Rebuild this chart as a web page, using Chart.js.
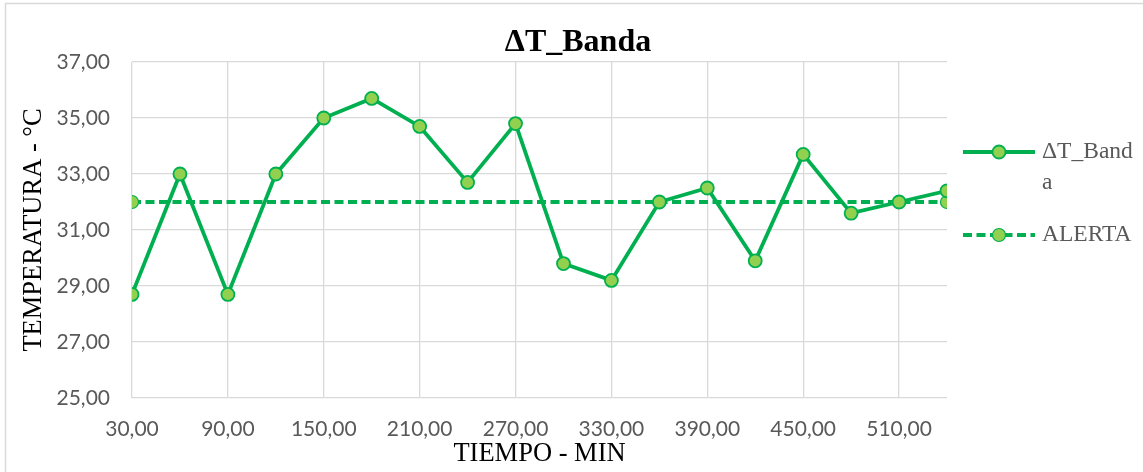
<!DOCTYPE html>
<html lang="es">
<head>
    <meta charset="UTF-8">
    <title>ΔT_Banda</title>
    <script src="https://cdn.jsdelivr.net/npm/chart.js"></script>
    <style>
        html, body { margin: 0; padding: 0; background: #fff; }
        #wrap { position: relative; width: 1143px; height: 472px; }
    </style>
</head>
<body>

<div id="wrap"><canvas id="lineChart"></canvas></div>

<script>
    // Data
    const tiempo = [30, 60, 90, 120, 150, 180, 210, 240, 270, 300, 330, 360, 390, 420, 450, 480, 510, 540];
    const deltaT = [28.7, 33.0, 28.7, 33.0, 35.0, 35.7, 34.7, 32.7, 34.8, 29.8, 29.2, 32.0, 32.5, 29.9, 33.7, 31.6, 32.0, 32.4];
    const alertaX = [30, 540];
    const alertaY = [32, 32];

    // Tick labels
    const xTicks = [30, 90, 150, 210, 270, 330, 390, 450, 510];
    const yTicks = [25, 27, 29, 31, 33, 35, 37];

    const titulo = 'ΔT_Banda';
    const serieNombre = 'ΔT_Banda';
    const alertaNombre = 'ALERTA';
    const ejeX = 'TIEMPO - MIN';
    const ejeY = 'TEMPERATURA - °C';

    const VERDE = '#00B050';
    const VERDE_CLARO = '#92D050';
    const GRIS_TEXTO = '#595959';
    const GRIS_REJILLA = '#D9D9D9';

    // Format numbers the way Excel shows them: 30,00
    function fmt(v) {
        return Number(v).toFixed(2).replace('.', ',');
    }

    // Border, title and legend drawn on the canvas
    const decor = {
        id: 'decor',
        beforeDraw(chart) {
            const ctx = chart.ctx;
            ctx.save();
            ctx.fillStyle = '#fff';
            ctx.fillRect(0, 0, chart.width, chart.height);
            ctx.strokeStyle = GRIS_REJILLA;
            ctx.lineWidth = 1.5;
            ctx.strokeRect(5.5, 3.5, chart.width + 20, chart.height + 20);
            ctx.restore();
        },
        afterDraw(chart) {
            const ctx = chart.ctx;
            ctx.save();

            // title
            ctx.fillStyle = '#000';
            ctx.font = 'bold 32px "Liberation Serif"';
            ctx.textAlign = 'center';
            ctx.textBaseline = 'middle';
            ctx.fillText(titulo, 578, 43);

            // legend
            const rows = [152, 235];
            const sx0 = 963, sx1 = 1035, tx = 1042, maxW = 94;
            ctx.font = '23.5px "Liberation Serif"';
            chart.data.datasets.forEach((ds, i) => {
                const y = rows[i];
                ctx.strokeStyle = ds.borderColor;
                ctx.lineWidth = ds.borderWidth;
                ctx.setLineDash(ds.borderDash || []);
                ctx.beginPath();
                ctx.moveTo(sx0, y);
                ctx.lineTo(sx1, y);
                ctx.stroke();
                ctx.setLineDash([]);
                ctx.beginPath();
                ctx.arc((sx0 + sx1) / 2, y, ds.pointRadius, 0, Math.PI * 2);
                ctx.fillStyle = ds.pointBackgroundColor;
                ctx.fill();
                ctx.lineWidth = ds.pointBorderWidth;
                ctx.strokeStyle = ds.pointBorderColor;
                ctx.stroke();

                // wrap by characters like Excel does
                const lines = [];
                let cur = '';
                for (const ch of ds.label) {
                    if (cur && ctx.measureText(cur + ch).width > maxW) {
                        lines.push(cur);
                        cur = ch;
                    } else {
                        cur += ch;
                    }
                }
                lines.push(cur);
                ctx.fillStyle = GRIS_TEXTO;
                ctx.textAlign = 'left';
                ctx.textBaseline = 'middle';
                lines.forEach((t, k) => ctx.fillText(t, tx, y + k * 31));
            });
            ctx.restore();
        }
    };

    const ctx = document.getElementById('lineChart').getContext('2d');
    const lineChart = new Chart(ctx, {
        type: 'line',
        data: {
            datasets: [{
                label: serieNombre,
                data: tiempo.map((t, i) => ({ x: t, y: deltaT[i] })),
                borderColor: VERDE,
                borderWidth: 3.8,
                pointRadius: 6.5,
                pointHoverRadius: 6.5,
                pointBackgroundColor: VERDE_CLARO,
                pointBorderColor: VERDE,
                pointBorderWidth: 1.8,
                tension: 0,
                fill: false
            }, {
                label: alertaNombre,
                data: alertaX.map((t, i) => ({ x: t, y: alertaY[i] })),
                borderColor: VERDE,
                borderWidth: 3.8,
                borderDash: [9, 4.5],
                pointRadius: 6.5,
                pointHoverRadius: 6.5,
                pointBackgroundColor: VERDE_CLARO,
                pointBorderColor: VERDE,
                pointBorderWidth: 1.2,
                tension: 0,
                fill: false
            }]
        },
        options: {
            responsive: true,
            maintainAspectRatio: false,
            animation: false,
            layout: { padding: { left: 0, right: 196, top: 62, bottom: 0 } },
            plugins: {
                legend: { display: false },
                title: { display: false },
                tooltip: { enabled: false }
            },
            scales: {
                x: {
                    type: 'linear',
                    min: 30,
                    max: 540,
                    afterBuildTicks: (s) => { s.ticks = xTicks.map(v => ({ value: v })); },
                    afterFit: (s) => { s.height = 74; },
                    grid: { color: GRIS_REJILLA, lineWidth: 1.3, drawTicks: false },
                    border: { display: false },
                    ticks: {
                        color: GRIS_TEXTO,
                        font: { family: 'Lato', size: 21 },
                        padding: 19,
                        maxRotation: 0,
                        autoSkip: false,
                        callback: (v) => fmt(v)
                    },
                    title: {
                        display: true,
                        text: ejeX,
                        color: '#000',
                        font: { family: 'Liberation Serif', size: 26.5 },
                        padding: { top: 0, bottom: 2 }
                    }
                },
                y: {
                    min: 25,
                    max: 37,
                    afterBuildTicks: (s) => { s.ticks = yTicks.map(v => ({ value: v })); },
                    afterFit: (s) => { s.width = 132; },
                    grid: { color: GRIS_REJILLA, lineWidth: 1.3, drawTicks: false },
                    border: { display: false },
                    ticks: {
                        color: GRIS_TEXTO,
                        font: { family: 'Lato', size: 21 },
                        padding: 22,
                        callback: (v) => fmt(v)
                    },
                    title: {
                        display: true,
                        text: ejeY,
                        color: '#000',
                        font: { family: 'Liberation Serif', size: 26.5 },
                        padding: { top: 18, bottom: 0 }
                    }
                }
            }
        },
        plugins: [decor]
    });
</script>

</body>
</html>
